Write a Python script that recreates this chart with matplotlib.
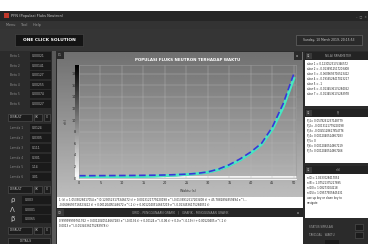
import numpy as np
import matplotlib
matplotlib.use('Agg')
import matplotlib.pyplot as plt
from matplotlib.patches import Rectangle

# data
waktu = [0, 2.5, 5, 7.5, 10, 12.5, 15, 17.5, 20, 22.5, 25, 27.5, 30, 32.5, 35,
         37.5, 40, 42.5, 45, 47.5, 50]
n_biru = [0.40, 0.40, 0.41, 0.42, 0.43, 0.44, 0.46, 0.48, 0.52, 0.58, 0.66,
          0.80, 1.05, 1.55, 2.3, 3.3, 4.5, 6.0, 8.8, 12.8, 18.0]
n_hijau = [0.15, 0.16, 0.17, 0.19, 0.21, 0.24, 0.28, 0.33, 0.40, 0.49, 0.60,
           0.76, 1.00, 1.45, 2.15, 3.1, 4.3, 5.8, 8.4, 12.2, 17.2]
n_tosca = [0.05, 0.06, 0.07, 0.08, 0.10, 0.13, 0.17, 0.22, 0.29, 0.38, 0.50,
           0.66, 0.90, 1.35, 2.05, 3.0, 4.2, 5.7, 8.3, 12.0, 16.8]
x_ticks = [0, 5, 10, 15, 20, 25, 30, 35, 40, 45, 50]
y_ticks = [0, 2, 4, 6, 8, 10, 12, 14, 16, 18]

beta_label = ['Beta 1', 'Beta 2', 'Beta 3', 'Beta 4', 'Beta 5', 'Beta 6']
beta_val = ['0.00021', '0.00141', '0.00127', '0.00255', '0.00074', '0.00027']
lamda_label = ['Lamda 1', 'Lamda 2', 'Lamda 3', 'Lamda 4', 'Lamda 5', 'Lamda 6']
lamda_val = ['0.0124', '0.0305', '0.111', '0.301', '1.14', '3.01']
param_label = ['\u03c1', '\u039b', '\u03b2']
param_val = ['0.003', '0.0001', '0.0065']
akar_txt = ['akar 1 = 0.1230523175346572', 'akar 2 = -0.0136912517203408',
            'akar 3 = -0.0609693716523412', 'akar 4 = -0.1916528417023217',
            'akar 5 = -1', 'akar 6 = -0.0134536175284052',
            'akar 7 = -0.0134536175283978']
pj_txt = ['Pj1= 0.0578261237148779', 'Pj2= -0.0013121779220198',
          'Pj3= -0.0045128617854776', 'Pj4= 0.0012040514667283',
          'Pj5= 0', 'Pj6= 0.0012040514667219', 'Pj7= 0.0012040514667266']
nt_txt = ['n(0)= 1.0533028417054', 'n(5)= 1.07521375227895',
          'n(10)= 1.08273104218', 'n(15)= 1.09577905845431',
          'use up key or down key to', 'navigate']

fig = plt.figure(figsize=(3.68, 2.44), dpi=100)
fig.patch.set_facecolor('white')
ui = fig.add_axes([0, 0, 1, 1])
ui.axis('off')

def kotak(x, y, w, h, c, z=1, ec='none'):
    ui.add_patch(Rectangle((x, y), w, h, facecolor=c, edgecolor=ec, lw=0.4, zorder=z))

def teks(x, y, s, c='#b0b0b0', fs=2.4, **kw):
    ui.text(x, y, s, color=c, fontsize=fs, va='center', zorder=5, **kw)

# window
kotak(0, 11, 368, 233, '#2d2d2d')
kotak(0, 11, 368, 10, '#262626')
kotak(4, 13, 5, 5, '#c0392b', 2)
teks(11, 16, 'PFN (Populasi Fluks Neutron)', '#c8c8c8', 2.6)
teks(356, 16, '\u2013  \u25a1  \u00d7', '#909090', 2.2)
kotak(0, 21, 368, 8, '#333333')
teks(6, 25, 'Menu     Tool     Help', '#9a9a9a', 2.4)
kotak(0, 29, 368, 22, '#353535')
kotak(15, 34, 68, 12, '#141414', 2, '#4a4a4a')
ui.text(49, 40, 'ONE CLICK SOLUTION', color='white', fontsize=3.2, weight='bold',
        ha='center', va='center', zorder=5)
kotak(296, 35, 66, 10, '#2a2a2a', 2, '#707070')
ui.text(329, 40, 'Sunday, 10 March 2019, 20:15:53', color='#d0d0d0', fontsize=2.2,
        ha='center', va='center', zorder=5)

# left panel
kotak(0, 51, 57, 193, '#2b2b2b')
kotak(52, 51, 4, 193, '#5a5a5a')
rows_b = [56, 66, 75, 85, 94, 104]
for y, lb, v in zip(rows_b, beta_label, beta_val):
    teks(10, y, lb, '#8a8a8a', 2.2)
    kotak(30, y - 4, 21, 8, '#1a1a1a', 2)
    teks(32, y, v, '#c0c0c0', 2.2)
rows_l = [128, 138, 148, 158, 167, 177]
for y, lb, v in zip(rows_l, lamda_label, lamda_val):
    teks(10, y, lb, '#8a8a8a', 2.2)
    kotak(30, y - 4, 21, 8, '#1a1a1a', 2)
    teks(32, y, v, '#c0c0c0', 2.2)
for y in [117, 189, 230]:
    kotak(8, y - 3.5, 24, 7, '#1c1c1c', 2, '#555555')
    teks(10, y, 'DEFAULT', '#c0c0c0', 2.2)
    kotak(34, y - 3.5, 8, 7, '#1c1c1c', 2, '#555555')
    teks(35, y, 'OK', '#c0c0c0', 2.0)
    kotak(44, y - 3.5, 6, 7, '#1c1c1c', 2, '#555555')
    teks(45.5, y, 'X', '#c0c0c0', 2.0)
for y, lb, v in zip([200, 210, 219], param_label, param_val):
    teks(10, y, lb, '#c8c8c8', 5)
    kotak(22, y - 4, 29, 8, '#1a1a1a', 2)
    teks(25, y, v, '#c0c0c0', 2.2)
kotak(8, 238, 42, 6, '#1c1c1c', 2, '#555555')
teks(20, 241, 'DETAILS', '#c0c0c0', 2.2)

# chart panel with gray gradient
grad = np.linspace(0.44, 0.74, 100).reshape(-1, 1)
ui.imshow(grad, extent=(57, 303, 197, 52), cmap='gray', vmin=0, vmax=1,
          aspect='auto', zorder=1)
kotak(57, 52, 7, 7, '#2a2a2a', 2)
teks(58, 55.5, 'C1', '#d0d0d0', 2.2)
kotak(294, 52, 8, 8, '#2a2a2a', 2)
teks(296, 56, 'x', '#e0e0e0', 2.6)
ui.text(188, 60, 'POPULASI FLUKS NEUTRON TERHADAP WAKTU', color='white',
        fontsize=2.9, weight='bold', ha='center', va='center', zorder=5)
ui.text(188, 191, 'Waktu (s)', color='#303030', fontsize=2.4, ha='center',
        va='center', zorder=5)
ui.text(66, 121, 'n(t)', color='#303030', fontsize=2.4, rotation=90,
        ha='center', va='center', zorder=5)

# left wall and floor of the 3D chart
wall = np.linspace(0.0, 1.0, 100).reshape(-1, 1)
ui.imshow(wall, extent=(75, 79, 179, 65), cmap='gray', vmin=0, vmax=1,
          aspect='auto', zorder=3)
kotak(75, 176, 222, 4, '#f4f4f4', 3)

# bottom text boxes
kotak(57, 197, 246, 11, '#ffffff')
teks(59, 200, '1 (t) = 1.0533028417054 e^(0.1230523175346572 t) + 0.0013121779220198 e^(-0.0136912517203408 t) + 45.7882894959494 e^(...',
     '#202020', 2.0)
teks(59, 205, '-0.0609693716523412 t) + 0.00120405146672 e^(-1 t) + 0.0012040514667219 e^(-0.0134536175284052 t)', '#202020', 2.0)
kotak(57, 208, 246, 9, '#262626')
kotak(57, 209, 7, 7, '#3a3a3a', 2)
teks(58, 212.5, 'C3', '#d0d0d0', 2.2)
ui.text(180, 212.5, 'GRID - PENGGUNAAN GRAFIK   |   GRAFIK - PENGGUNAAN GRAFIK', color='#a0a0a0',
        fontsize=2.2, ha='center', va='center', zorder=5)
teks(297, 212.5, 'x', '#e0e0e0', 2.4)
kotak(57, 217, 246, 27, '#ffffff')
teks(59, 221, '0.99999999761762 + 0.0012040514667283 e^(-0.0136 t) + 0.00124 e^(-0.06 t) + 0.0 e^(-0.19 t) + 0.00120405 e^(-1 t)', '#202020', 2.0)
teks(59, 226, '0.0013 e^(-0.0134536175283978 t)', '#202020', 2.0)

# right panel
kotak(303, 51, 65, 193, '#2b2b2b')
heads = [(52, 'NILAI PARAMETER'), (109, 'Pj'), (166, 'n(t)')]
for y, h in heads:
    kotak(305, y, 63, 8, '#232323')
    kotak(306, y + 1, 6, 6, '#3a3a3a', 2)
    teks(306.5, y + 4, 'C2', '#d0d0d0', 1.8)
    ui.text(338, y + 4, h, color='#a0a0a0', fontsize=2.2, ha='center',
            va='center', zorder=5)
kotak(305, 60, 63, 46, '#ffffff')
for i, s in enumerate(akar_txt):
    teks(307, 64 + i * 5, s, '#202020', 1.9)
kotak(305, 117, 63, 46, '#ffffff')
for i, s in enumerate(pj_txt):
    teks(307, 121 + i * 5, s, '#202020', 1.9)
kotak(305, 174, 63, 44, '#ffffff')
for i, s in enumerate(nt_txt):
    teks(307, 178 + i * 5, s, '#202020', 1.9)
teks(309, 227, 'STATUS SIMULASI', '#a0a0a0', 2.0)
kotak(355, 224, 8, 6, '#1c1c1c', 2, '#555555')
teks(309, 235, 'TANGGAL   WAKTU', '#a0a0a0', 2.0)
kotak(355, 232, 8, 6, '#1c1c1c', 2, '#555555')
kotak(325, 240, 14, 5, '#1c1c1c', 2)

ui.set_xlim(0, 368)
ui.set_ylim(244, 0)

# the chart itself
ax = fig.add_axes([79 / 368, 1 - 178 / 244, (296 - 79) / 368, (178 - 65) / 244])
ax.patch.set_alpha(0)
ax.plot(waktu, n_tosca, color='#2fb7b0', lw=0.9)
ax.plot(waktu, n_hijau, color='#48e6c2', lw=2.0)
ax.plot(waktu, n_biru, color='#3a36d6', lw=1.2, dashes=(4, 2))
ax.set_xlim(0, 50.5)
ax.set_ylim(0, 19.5)
ax.set_xticks(x_ticks)
ax.set_yticks(y_ticks)
ax.grid(color='#b8b8b8', lw=0.3)
ax.tick_params(labelsize=2.4, length=0, pad=2, colors='#202020')
for s in ax.spines.values():
    s.set_color('#9a9a9a')
    s.set_linewidth(0.4)

fig.savefig('out.png', dpi=100)
